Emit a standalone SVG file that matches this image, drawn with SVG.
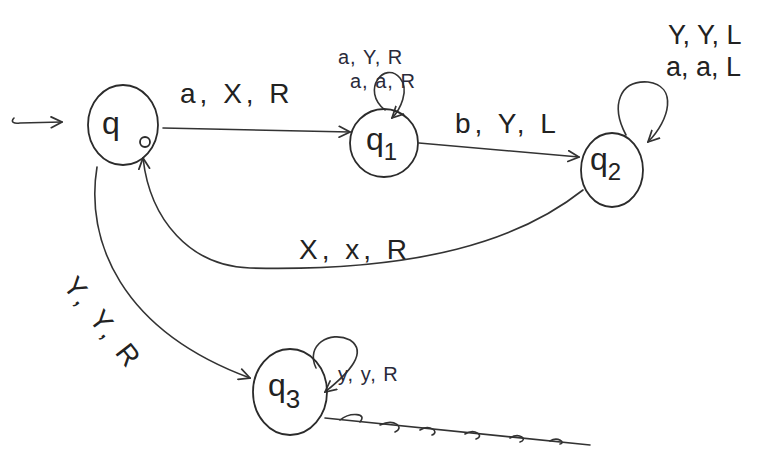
<svg xmlns="http://www.w3.org/2000/svg" width="764" height="452" viewBox="0 0 764 452">
<style>
.st{fill:none;stroke:#2b2b2b;stroke-width:1.8;stroke-linecap:round;stroke-linejoin:round}
.ed{fill:none;stroke:#333;stroke-width:1.6;stroke-linecap:round}
.lb{font-family:"Liberation Sans","DejaVu Sans",sans-serif;fill:#222;font-size:28px;letter-spacing:4px}
.lt{font-family:"Liberation Sans","DejaVu Sans",sans-serif;fill:#222;font-size:27px;letter-spacing:0px}
.sm{font-family:"Liberation Sans","DejaVu Sans",sans-serif;fill:#2a2a3a;font-size:20px;letter-spacing:1px}
.nm{font-family:"Liberation Sans","DejaVu Sans",sans-serif;fill:#222;font-size:32px}
</style>
<defs>
<marker id="ah" viewBox="0 0 12 12" refX="11" refY="6" markerWidth="13" markerHeight="13" markerUnits="userSpaceOnUse" orient="auto">
<path d="M1,1 L11,6 L1,11" fill="none" stroke="#333" stroke-width="1.6" stroke-linecap="round"/>
</marker>
</defs>
<rect width="764" height="452" fill="#fff"/>
<g id="connectors">
<path class="ed" d="M14,118 C10,122 14,124 20,123 L62,122" stroke-width="2.6" marker-end="url(#ah)"/>
<path class="ed" d="M163,128 L350,132" stroke-width="2" marker-end="url(#ah)"/>
<path class="ed" d="M419,143 L579,157" stroke-width="1.8" marker-end="url(#ah)"/>
<path class="ed" d="M583,190 C520,240 420,272 250,268 C190,266 150,220 143,158" marker-end="url(#ah)"/>
<path class="ed" d="M97,167 C85,240 120,330 250,378" marker-end="url(#ah)"/>
<path class="ed" d="M385,110 C360,90 385,60 400,78 C410,90 400,110 392,118" marker-end="url(#ah)"/>
<path class="ed" d="M626,135 C610,105 620,80 648,82 C678,86 670,120 648,142" marker-end="url(#ah)"/>
<path class="ed" d="M316,368 C305,345 330,330 350,340 C368,352 350,372 325,392" marker-end="url(#ah)"/>
<path class="ed" d="M325,418 L590,445" stroke-width="1.8"/>
<path class="ed" d="M340,420 C350,412 368,413 360,422 M380,425 C395,418 405,428 395,432 M420,430 C430,424 440,432 432,435 M465,434 C475,428 485,436 476,439 M510,438 C520,432 528,440 520,442 M550,441 C558,436 566,443 560,444" stroke-width="1"/>
</g>
<g id="q0">
<ellipse class="st" cx="123" cy="125" rx="35" ry="40"/>
<text class="nm" x="102" y="134">q</text>
<circle class="st" cx="145" cy="142" r="5" stroke-width="1.4"/>
</g>
<g id="q1">
<ellipse class="st" cx="384" cy="143" rx="34" ry="34"/>
<text class="nm" x="366" y="150">q<tspan font-size="24" dy="10">1</tspan></text>
</g>
<g id="q2">
<ellipse class="st" cx="612" cy="170" rx="31" ry="37"/>
<text class="nm" x="590" y="170">q<tspan font-size="24" dy="10">2</tspan></text>
</g>
<g id="q3">
<ellipse class="st" cx="290" cy="392" rx="37" ry="43"/>
<text class="nm" x="268" y="396">q<tspan font-size="26" dy="12">3</tspan></text>
</g>
<g id="labels">
<text class="lb" x="180" y="103">a, X, R</text>
<text class="lb" x="455" y="133">b, Y, L</text>
<text class="lb" x="299" y="259">X, x, R</text>
<text class="lb" transform="translate(62,286) rotate(52)">Y, Y, R</text>
<text class="sm" x="338" y="64">a, Y, R</text>
<text class="sm" x="350" y="88">a, a, R</text>
<text class="lt" x="668" y="44">Y, Y, L</text>
<text class="lt" x="666" y="76">a, a, L</text>
<text class="sm" x="338" y="381">y, y, R</text>
</g>
</svg>
